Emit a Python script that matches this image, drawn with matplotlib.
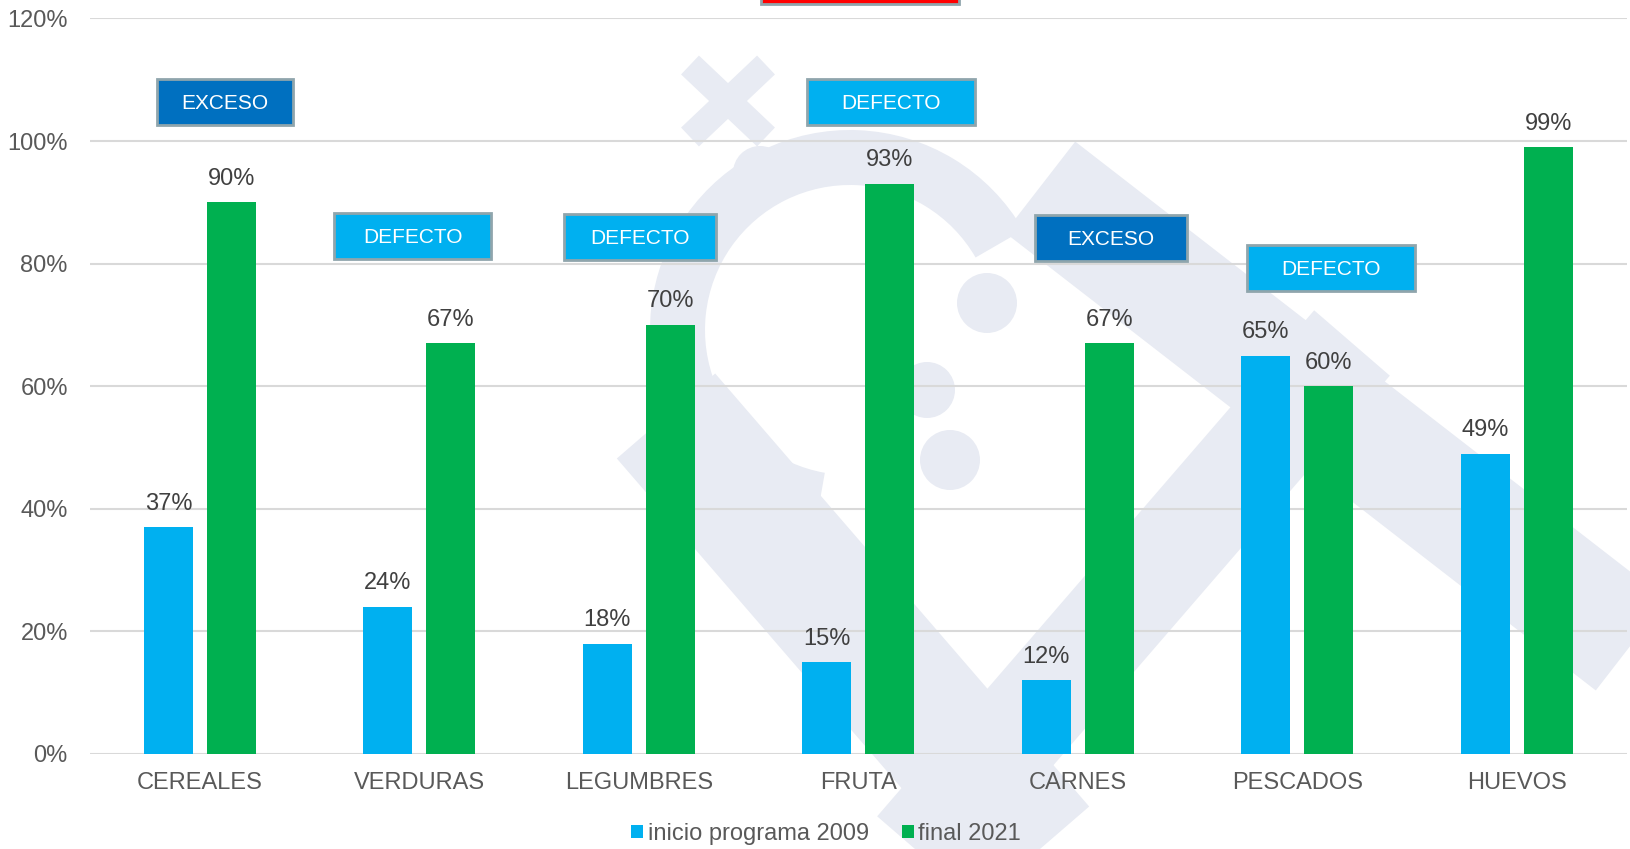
import matplotlib.pyplot as plt
import matplotlib.patches as mpatches
import numpy as np

plt.rcParams['font.family'] = ['Liberation Sans', 'DejaVu Sans']

# data
categories = ['CEREALES', 'VERDURAS', 'LEGUMBRES', 'FRUTA', 'CARNES', 'PESCADOS', 'HUEVOS']
inicio_2009 = [0.37, 0.24, 0.18, 0.15, 0.12, 0.65, 0.49]
final_2021 = [0.90, 0.67, 0.70, 0.93, 0.67, 0.60, 0.99]
series_names = ['inicio programa 2009', 'final 2021']

# label boxes: text, category position, y level, box width (category units)
box_text = ['EXCESO', 'DEFECTO', 'DEFECTO', 'DEFECTO', 'EXCESO', 'DEFECTO']
box_x = [0.116, 0.97, 2.005, 3.15, 4.15, 5.155]
box_y = [1.064, 0.845, 0.844, 1.064, 0.842, 0.793]
box_w = [0.62, 0.715, 0.692, 0.765, 0.692, 0.765]
box_color = ['#0070C0', '#00B0F0', '#00B0F0', '#00B0F0', '#0070C0', '#00B0F0']

W, H = 1631, 849
fig = plt.figure(figsize=(W / 100, H / 100), dpi=100)

# faint watermark in the background
bg = fig.add_axes([0, 0, 1, 1], zorder=0)
bg.set_xlim(0, W)
bg.set_ylim(H, 0)
bg.axis('off')
wm = '#E8EBF3'
def band(p0, p1, wpx):
    bg.plot([p0[0], p1[0]], [p0[1], p1[1]], color=wm, lw=wpx * 0.72,
            solid_capstyle='butt')
band((690, 65), (766, 137), 26)
band((690, 137), (766, 65), 26)
band((1040, 187), (1631, 645), 115)
band((666, 416), (1040, 849), 130)
band((1352, 343), (915, 849), 100)
bg.add_patch(mpatches.Wedge((850, 330), 200, 100, 330, width=55, color=wm, lw=0))
for cx, cy, r in [(760, 173, 27), (987, 303, 30), (927, 390, 28), (950, 460, 30)]:
    bg.add_patch(mpatches.Circle((cx, cy), r, color=wm, lw=0))

ax = fig.add_axes([90 / W, 1 - 754 / H, 1536.5 / W, (754 - 18.4) / H], zorder=1)
ax.set_facecolor('none')

x = np.arange(len(categories))
bw = 0.223
off = 0.143
b1 = ax.bar(x - off, inicio_2009, bw, color='#00B0F0', label=series_names[0], zorder=2)
b2 = ax.bar(x + off, final_2021, bw, color='#00B050', label=series_names[1], zorder=2)

for bars in (b1, b2):
    for rect in bars:
        v = rect.get_height()
        ax.annotate('{:.0f}%'.format(v * 100), (rect.get_x() + rect.get_width() / 2, v),
                    xytext=(0, 9), textcoords='offset points', ha='center', va='bottom',
                    fontsize=17, color='#404040')

bh = 0.075
for t, bx, by, w, c in zip(box_text, box_x, box_y, box_w, box_color):
    ax.add_patch(mpatches.Rectangle((bx - w / 2, by - bh / 2), w, bh, facecolor=c,
                                    edgecolor='#8FA5AC', lw=2, zorder=3, clip_on=False))
    ax.text(bx, by - 0.003, t, ha='center', va='center', color='white', fontsize=15, zorder=4)

ax.set_xlim(-0.5, len(categories) - 0.5)
ax.set_ylim(0, 1.2)
ax.set_yticks(np.arange(0, 1.21, 0.2))
ax.set_yticklabels(['{:.0f}%'.format(v * 100) for v in np.arange(0, 1.21, 0.2)])
ax.set_xticks(x)
ax.set_xticklabels(categories)
ax.tick_params(axis='both', length=0, labelsize=17, labelcolor='#595959')
ax.tick_params(axis='y', pad=16)
ax.tick_params(axis='x', pad=13)
ax.grid(axis='y', color='#D9D9D9', lw=1.5, zorder=0)
for s in ax.spines.values():
    s.set_visible(False)

# red box partly hidden at the top
fig.add_artist(mpatches.Rectangle((761 / W, 1 - 4 / H), 198 / W, 0.05, facecolor='#FF0000',
                                  edgecolor='#8FA5AC', lw=2, transform=fig.transFigure,
                                  clip_on=False))

leg = fig.legend(loc='center', bbox_to_anchor=(826 / W, 1 - 834 / H), ncol=2, frameon=False,
                 fontsize=17, handlelength=0.5, handleheight=0.5, handletextpad=0.2,
                 columnspacing=1.4, borderpad=0)
for txt in leg.get_texts():
    txt.set_color('#595959')

fig.savefig('out.png', dpi=100)
